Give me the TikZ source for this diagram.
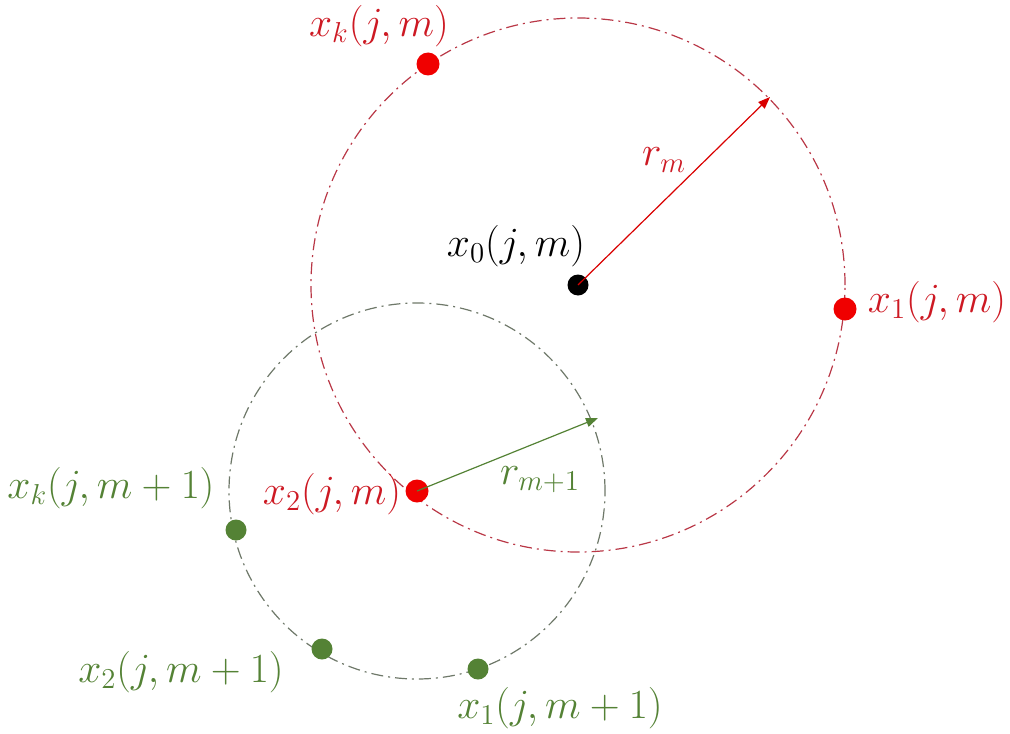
\documentclass[tikz,border=0pt]{standalone}
\usetikzlibrary{arrows.meta,calc}
\definecolor{dotred}{RGB}{240,0,0}
\definecolor{txtred}{RGB}{205,25,35}
\definecolor{circred}{RGB}{185,55,70}
\definecolor{grn}{RGB}{84,130,53}
\definecolor{circgrn}{RGB}{110,120,105}
\begin{document}
\begin{tikzpicture}[x=0.5pt,y=-0.5pt,
  lbl/.style={font=\fontsize{20.5}{24}\selectfont, inner sep=0pt},
  rdot/.style={circle, fill=dotred, inner sep=0pt, minimum size=11.5pt},
  gdot/.style={circle, fill=grn, inner sep=0pt, minimum size=10.5pt},
  kdot/.style={circle, fill=black, inner sep=0pt, minimum size=10.5pt},
  dashdot/.style={line width=0.6pt, dash pattern=on 6pt off 2.5pt on 1pt off 2.5pt},
  arr/.style={line width=0.6pt, -{Triangle[length=6pt,width=4.5pt]}}]
\useasboundingbox (0,0) rectangle (1010,733);
% circles
\draw[dashdot, circred] (578,285) circle[radius=133.5pt];
\draw[dashdot, circgrn] (417,491) circle[radius=94pt];
% dots
\node[kdot] (x0) at (578,285) {};
\node[rdot] (xk) at (428,64) {};
\node[rdot] (x1) at (845,309) {};
\node[rdot] (x2) at (417,491) {};
\node[gdot] (gk) at (236,530) {};
\node[gdot] (g2) at (322,649) {};
\node[gdot] (g1) at (478,669) {};
% arrows
\coordinate (rmend) at (770,97);
\coordinate (rm1end) at (598,418);
\draw[arr, red!85!black] (x0.center) -- (rmend);
\draw[arr, grn] (x2.center) -- (rm1end);
% labels
\node[lbl, txtred] (lxk) at (379,26) {$x_k(j,m)$};
\node[lbl, black] (lx0) at (516,246) {$x_0(j,m)$};
\node[lbl, txtred] (lrm) at (664,160) {$r_m$};
\node[lbl, txtred] (lx1) at (937,302) {$x_1(j,m)$};
\node[lbl, txtred] (lx2) at (332,494) {$x_2(j,m)$};
\node[lbl, grn] (lrm1) at (540,480) {$r_{m+1}$};
\node[lbl, grn] (lgk) at (111,488) {$x_k(j,m+1)$};
\node[lbl, grn] (lg2) at (181,672) {$x_2(j,m+1)$};
\node[lbl, grn] (lg1) at (560,708) {$x_1(j,m+1)$};
\end{tikzpicture}
\end{document}
